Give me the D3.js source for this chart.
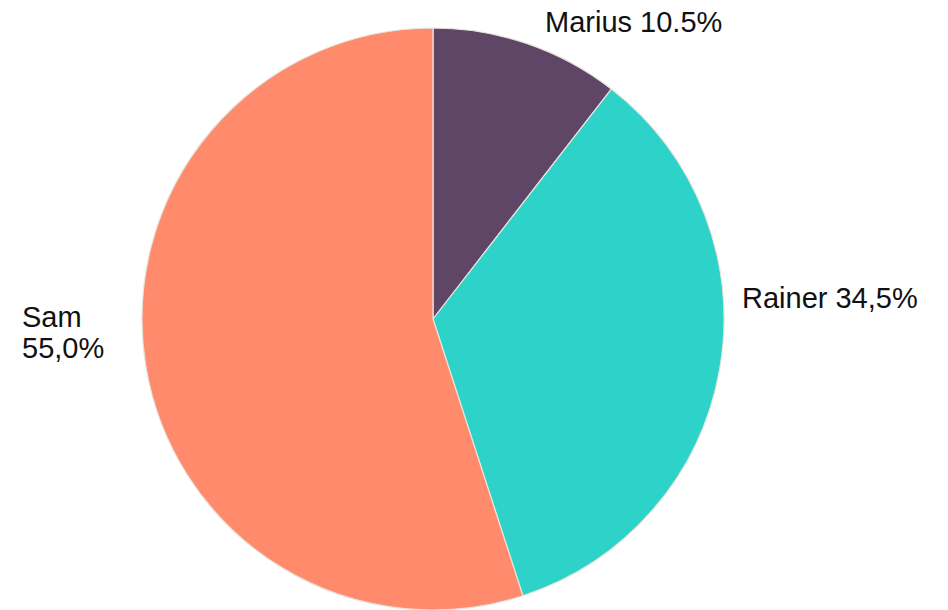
<!DOCTYPE html>
<html>
<head>
<meta charset="utf-8">
<script src="https://cdn.jsdelivr.net/npm/d3@7"></script>
<style>
  html, body { margin: 0; padding: 0; background: #fff; }
  svg { display: block; }
  text { font-family: "Liberation Sans", Arial, sans-serif; fill: #111; }
</style>
</head>
<body>
<svg id="chart" width="948" height="610"></svg>
<script>
// Share of each person
const names = ["Marius", "Rainer", "Sam"];
const shares = [10.5, 34.5, 55.0];
const shareLabels = ["10.5%", "34,5%", "55,0%"];
const colors = ["#5f4566", "#2dd2c9", "#ff8a6c"];

const width = 948, height = 610;
const cx = 433, cy = 319, radius = 291;

const svg = d3.select("#chart");
const g = svg.append("g").attr("transform", `translate(${cx},${cy})`);

const pie = d3.pie().sort(null).value(d => d.value);
const arc = d3.arc().innerRadius(0).outerRadius(radius);

const data = names.map((n, i) => ({ name: n, value: shares[i], label: shareLabels[i], color: colors[i] }));
const arcs = pie(data);

g.selectAll("path.slice")
  .data(arcs)
  .join("path")
  .attr("class", "slice")
  .attr("d", arc)
  .attr("fill", d => d.data.color)
  .attr("stroke", "#e8e4dc")
  .attr("stroke-width", 1.2);

// Labels placed outside the pie
const labelPos = {
  "Marius": { x: 545, y: 32, lines: d => [d.name + " " + d.label] },
  "Rainer": { x: 742, y: 308, lines: d => [d.name + " " + d.label] },
  "Sam":    { x: 22,  y: 327, lines: d => [d.name, d.label] }
};

arcs.forEach(a => {
  const p = labelPos[a.data.name];
  const t = svg.append("text")
    .attr("x", p.x)
    .attr("y", p.y)
    .attr("font-size", 29);
  p.lines(a.data).forEach((line, i) => {
    t.append("tspan")
      .attr("x", p.x)
      .attr("dy", i === 0 ? 0 : 31)
      .text(line);
  });
});
</script>
</body>
</html>
